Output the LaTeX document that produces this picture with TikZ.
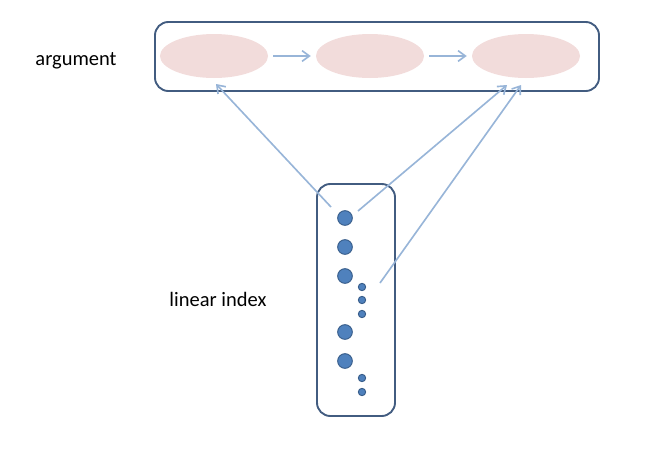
\documentclass[tikz,border=0pt]{standalone}
\usepackage{fontspec}
\setmainfont{Carlito}
\usetikzlibrary{arrows.meta, shapes.geometric}
\definecolor{frameblue}{RGB}{66,92,128}
\definecolor{cellpink}{RGB}{242,220,219}
\definecolor{linkblue}{RGB}{152,181,216}
\definecolor{dotblue}{RGB}{79,129,189}
\definecolor{dotedge}{RGB}{56,93,138}
\begin{document}
\begin{tikzpicture}
  [x=0.03cm, y=-0.03cm]
  \tikzstyle{frame} = [draw=frameblue, line width=1.6pt, rounded corners=4mm, inner sep=0pt];
  \tikzstyle{arg_cell} = [ellipse, fill=cellpink, minimum width=3.24cm, minimum height=1.32cm, inner sep=0pt];
  \tikzstyle{big_dot} = [circle, fill=dotblue, draw=dotedge, line width=0.8pt, minimum size=0.44cm, inner sep=0pt];
  \tikzstyle{small_dot} = [circle, fill=dotblue, draw=dotedge, line width=0.8pt, minimum size=0.22cm, inner sep=0pt];
  \tikzstyle{link} = [draw=linkblue, line width=1.4pt, -{Straight Barb[length=2.2mm, width=3.2mm]}];
  \tikzstyle{label} = [font=\fontsize{17.5}{20}\selectfont, inner sep=0pt];

  \useasboundingbox (0, 0) rectangle (661, 466);

  \node[frame, minimum width=13.32cm, minimum height=2.07cm] (argbox) at (377, 56.5) {};
  \node[frame, minimum width=2.34cm, minimum height=6.96cm] (indexbox) at (356, 300) {};

  \node[arg_cell] (arg1) at (214, 56) {};
  \node[arg_cell] (arg2) at (370, 56) {};
  \node[arg_cell] (arg3) at (526, 56) {};

  \node[label] (argtext) at (76, 61) {argument};
  \node[label] (idxtext) at (218, 299) {linear index};

  \node[big_dot] (d1) at (345, 218) {};
  \node[big_dot] (d2) at (345, 247) {};
  \node[big_dot] (d3) at (345, 276) {};
  \node[big_dot] (d4) at (345, 332) {};
  \node[big_dot] (d5) at (345, 361) {};

  \node[small_dot] (s1) at (362, 287) {};
  \node[small_dot] (s2) at (362, 300) {};
  \node[small_dot] (s3) at (362, 314) {};
  \node[small_dot] (s4) at (362, 378) {};
  \node[small_dot] (s5) at (362, 392) {};

  \coordinate (l1) at (331, 207);
  \coordinate (l2) at (358, 211);
  \coordinate (l3) at (380, 283);
  \coordinate (t1) at (216, 84);
  \coordinate (t2) at (507, 85);
  \coordinate (t3) at (521, 85);

  \draw[link] ([xshift=0.15cm]arg1.east) -- ([xshift=-0.15cm]arg2.west);
  \draw[link] ([xshift=0.15cm]arg2.east) -- ([xshift=-0.15cm]arg3.west);

  \draw[link] (l1) -- (t1);
  \draw[link] (l2) -- (t2);
  \draw[link] (l3) -- (t3);

\end{tikzpicture}
\end{document}
